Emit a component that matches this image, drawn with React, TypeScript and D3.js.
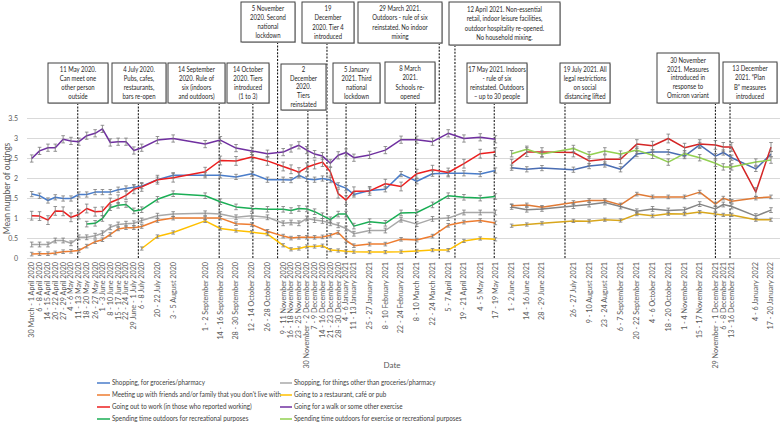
import React from "react";
import * as d3 from "d3";

// ---------- DATA ----------
const wave1Labels = [
  "30 March - 1 April 2020", "6 - 8 April 2020", "14 - 15 April 2020", "20 - 22 April 2020",
  "27 - 29 April 2020", "4 - 6 May 2020", "11 - 13 May 2020", "18 - 20 May 2020",
  "26 - 27 May 2020", "1 - 3 June 2020", "8 - 10 June 2020", "15 - 17 June 2020",
  "22 - 24 June 2020", "29 June - 1 July 2020", "6 - 8 July 2020", "20 - 22 July 2020",
  "3 - 5 August 2020", "1 - 2 September 2020", "14 - 16 September 2020", "28 - 30 September 2020",
  "12 - 14 October 2020", "26 - 28 October 2020", "9 - 11 November 2020", "16 - 18 November 2020",
  "23 - 25 November 2020", "30 November - 2 December 2020", "7 - 9 December 2020", "14 - 16 December 2020",
  "21 - 23 December 2020", "28 - 30 December 2020", "4 - 6 January 2021", "11 - 13 January 2021",
  "25 - 27 January 2021", "8 - 10 February 2021", "22 - 24 February 2021", "8 - 10 March 2021",
  "22 - 24 March 2021", "5 - 7 April 2021", "19 - 21 April 2021", "4 - 5 May 2021", "17 - 19 May 2021",
];
const wave1Dates = [
  "2020-03-31T00:00", "2020-04-07T00:00", "2020-04-14T12:00", "2020-04-21T00:00", "2020-04-28T00:00",
  "2020-05-05T00:00", "2020-05-12T00:00", "2020-05-19T00:00", "2020-05-26T12:00", "2020-06-02T00:00",
  "2020-06-09T00:00", "2020-06-16T00:00", "2020-06-23T00:00", "2020-06-30T00:00", "2020-07-07T00:00",
  "2020-07-21T00:00", "2020-08-04T00:00", "2020-09-01T12:00", "2020-09-15T00:00", "2020-09-29T00:00",
  "2020-10-13T00:00", "2020-10-27T00:00", "2020-11-10T00:00", "2020-11-17T00:00", "2020-11-24T00:00",
  "2020-12-01T00:00", "2020-12-08T00:00", "2020-12-15T00:00", "2020-12-22T00:00", "2020-12-29T00:00",
  "2021-01-05T00:00", "2021-01-12T00:00", "2021-01-26T00:00", "2021-02-09T00:00", "2021-02-23T00:00",
  "2021-03-09T00:00", "2021-03-23T00:00", "2021-04-06T00:00", "2021-04-20T00:00", "2021-05-04T12:00",
  "2021-05-18T00:00",
];
const wave2Labels = [
  "1 - 2 June 2021", "14 - 16 June 2021", "28 - 29 June 2021", "26 - 27 July 2021",
  "9 - 10 August 2021", "23 - 24 August 2021", "6 - 7 September 2021", "20 - 22 September 2021",
  "4 - 6 October 2021", "18 - 20 October 2021", "1 - 4 November 2021", "15 - 17 November 2021",
  "29 November - 1 December 2021", "6 - 8 December 2021", "13 - 16 December 2021",
  "4 - 6 January 2022", "17 - 20 January 2022",
];
const wave2Dates = [
  "2021-06-01T12:00", "2021-06-15T00:00", "2021-06-28T12:00", "2021-07-26T12:00", "2021-08-09T12:00",
  "2021-08-23T12:00", "2021-09-06T12:00", "2021-09-21T00:00", "2021-10-05T00:00", "2021-10-19T00:00",
  "2021-11-02T12:00", "2021-11-16T00:00", "2021-11-30T00:00", "2021-12-07T00:00", "2021-12-14T12:00",
  "2022-01-05T00:00", "2022-01-18T12:00",
];

const yTicks = [0, 0.5, 1, 1.5, 2, 2.5, 3, 3.5];

// Wave 1 series (41 survey waves)
const groceries1 = [1.61, 1.57, 1.45, 1.53, 1.50, 1.50, 1.60, 1.60, 1.66, 1.66, 1.66, 1.72, 1.75, 1.78, 1.81, 1.97, 2.08, 2.08, 2.08, 2.04, 2.12, 1.97, 1.97, 1.96, 2.08, 1.99, 1.97, 2.0, 1.96, 1.83, 1.76, 1.60, 1.70, 1.73, 2.11, 1.93, 2.12, 2.13, 2.13, 2.11, 2.2];
const otherShop1 = [0.35, 0.35, 0.35, 0.45, 0.45, 0.38, 0.53, 0.53, 0.57, 0.63, 0.78, 0.85, 0.87, 0.88, 0.95, 1.07, 1.11, 1.13, 1.11, 1.03, 1.07, 1.03, 0.88, 0.90, 0.88, 1.0, 0.96, 0.94, 0.88, 0.83, 0.75, 0.62, 0.70, 0.70, 0.97, 0.86, 0.99, 1.01, 1.15, 1.15, 1.15];
const meeting1 = [0.11, 0.12, 0.12, 0.14, 0.17, 0.18, 0.20, 0.31, 0.42, 0.47, 0.60, 0.74, 0.77, 0.77, 0.80, 0.95, 1.01, 1.01, 1.01, 0.87, 0.85, 0.68, 0.56, 0.51, 0.53, 0.53, 0.53, 0.54, 0.58, 0.65, 0.45, 0.32, 0.36, 0.36, 0.48, 0.46, 0.56, 0.83, 0.91, 0.95, 0.89];
const restaurant1 = [null, null, null, null, null, null, null, null, null, null, null, null, null, null, 0.25, 0.55, 0.65, 0.94, 0.75, 0.70, 0.66, 0.61, 0.33, 0.23, 0.25, 0.30, 0.30, 0.32, 0.21, 0.20, 0.18, 0.17, 0.16, 0.16, 0.17, 0.19, 0.21, 0.21, 0.44, 0.50, 0.48];
const work1 = [1.07, 1.06, 0.96, 1.19, 1.18, 1.03, 1.10, 1.25, 1.17, 1.18, 1.40, 1.48, 1.58, 1.73, 1.79, 1.97, 2.02, 2.17, 2.45, 2.44, 2.54, 2.44, 2.30, 2.23, 2.16, 2.28, 2.35, 2.41, 2.17, 1.62, 1.46, 1.68, 1.69, 1.87, 1.80, 2.12, 2.22, 2.15, 2.37, 2.62, 2.66];
const walk1 = [2.50, 2.69, 2.77, 2.77, 2.98, 2.94, 2.92, 3.07, 3.13, 3.24, 2.90, 2.92, 2.92, 2.70, 2.77, 2.96, 3.0, 2.86, 2.96, 2.76, 2.69, 2.62, 2.66, 2.75, 2.83, 2.71, 2.61, 2.56, 2.38, 2.58, 2.65, 2.52, 2.59, 2.71, 2.97, 2.97, 2.92, 3.13, 3.0, 3.03, 2.98];
const outdoorsRec1 = [null, null, null, null, null, null, null, 0.86, 0.88, 1.0, 1.27, 1.33, 1.35, 1.19, 1.22, 1.48, 1.62, 1.57, 1.42, 1.29, 1.25, 1.23, 1.23, 1.20, 1.25, 1.24, 1.17, 1.07, 0.97, 1.11, 1.11, 0.81, 0.92, 0.88, 1.14, 1.15, 1.34, 1.57, 1.53, 1.51, 1.55];

// Wave 2 series (17 survey waves)
const groceries2 = [2.27, 2.23, 2.26, 2.22, 2.31, 2.35, 2.23, 2.61, 2.66, 2.66, 2.56, 2.84, 2.56, 2.65, 2.52, 2.24, 2.61];
const otherShop2 = [1.29, 1.22, 1.24, 1.31, 1.35, 1.40, 1.30, 1.18, 1.24, 1.20, 1.22, 1.36, 1.24, 1.35, 1.30, 1.06, 1.21];
const meeting2 = [1.32, 1.34, 1.28, 1.40, 1.45, 1.45, 1.34, 1.61, 1.54, 1.54, 1.54, 1.66, 1.36, 1.51, 1.43, 1.51, 1.54];
const restaurant2 = [0.82, 0.85, 0.88, 0.94, 0.93, 0.97, 0.95, 1.11, 1.07, 1.12, 1.11, 1.16, 1.11, 1.09, 1.09, 0.97, 0.97];
const work2 = [2.37, 2.66, 2.66, 2.65, 2.44, 2.48, 2.48, 2.86, 2.82, 3.0, 2.77, 2.86, 2.84, 2.79, 2.79, 1.66, 2.79];
const outdoorsEx2 = [2.62, 2.73, 2.61, 2.75, 2.59, 2.69, 2.61, 2.71, 2.58, 2.41, 2.62, 2.52, 2.38, 2.29, 2.29, 2.41, 2.46];

// Approximate error-bar half widths (95% CI) per series
const ciGroceries = 0.065;
const ciOtherShop = 0.06;
const ciMeeting = 0.045;
const ciRestaurant = 0.04;
const ciWork = 0.11;
const ciWalk = 0.09;
const ciOutdoorsRec = 0.07;
const ciOutdoorsEx = 0.08;

const seriesNames = [
  "Shopping, for groceries/pharmacy",
  "Shopping, for things other than groceries/pharmacy",
  "Meeting up with friends and/or family that you don't live with",
  "Going to a restaurant, café or pub",
  "Going out to work (in those who reported working)",
  "Going for a walk or some other exercise",
  "Spending time outdoors for recreational purposes",
  "Spending time outdoors for exercise or recreational purposes",
];

// Policy events
const eventDates = [
  "2020-05-11T00:00", "2020-07-04T00:00", "2020-09-14T00:00", "2020-10-14T00:00", "2020-11-05T00:00",
  "2020-12-02T00:00", "2020-12-19T00:00", "2021-01-05T00:00", "2021-03-29T00:00", "2021-03-08T00:00",
  "2021-04-12T00:00", "2021-05-17T00:00", "2021-07-19T00:00", "2021-11-30T00:00", "2021-12-13T00:00",
];
const eventTexts = [
  ["11 May 2020.", "Can meet one", "other person", "outside"],
  ["4 July 2020.", "Pubs, cafes,", "restaurants,", "bars re-open"],
  ["14 September", "2020. Rule of", "six (indoors", "and outdoors)"],
  ["14 October", "2020. Tiers", "introduced", "(1 to 3)"],
  ["5 November", "2020. Second", "national", "lockdown"],
  ["2", "December", "2020.", "Tiers", "reinstated"],
  ["19", "December", "2020. Tier 4", "introduced"],
  ["5 January", "2021. Third", "national", "lockdown"],
  ["29 March 2021.", "Outdoors - rule of six", "reinstated. No indoor", "mixing"],
  ["8 March", "2021.", "Schools re-", "opened"],
  ["12 April 2021. Non-essential", "retail, indoor leisure facilities,", "outdoor hospitality re-opened.", "No household mixing."],
  ["17 May 2021. Indoors", "- rule of six", "reinstated. Outdoors", "\u2013 up to 30 people"],
  ["19 July 2021. All", "legal restrictions", "on social", "distancing lifted"],
  ["30 November", "2021. Measures", "introduced in", "response to", "Omicron variant"],
  ["13 December", "2021. \u201cPlan", "B\u201d measures", "introduced"],
];

// ---------- LAYOUT (annotation boxes: left, top, right, bottom) ----------
const boxLayout = [
  [48, 63, 108, 103], [112, 63, 166, 103], [168, 63, 225, 103], [227, 63, 269, 103],
  [241, 2, 295, 42], [281, 64, 326, 110], [302, 2, 354, 43], [333, 63, 380, 103],
  [358, 2, 442, 43], [385, 62, 435, 103], [449, 2, 560, 45], [467, 63, 527, 103],
  [560, 63, 610, 103], [657, 53, 719, 103], [723, 62, 777, 103],
];

const COLORS = {
  groceries: ["#4a7dca", "#4a6db3"],
  otherShop: ["#a8a8a8", "#858585"],
  meeting: ["#ee7d31", "#e07a35"],
  restaurant: ["#ffc000", "#d8a61c"],
  work: ["#ec1f1f", "#d42626"],
  walk: ["#7030a0", "#7030a0"],
  outdoorsRec: ["#1aae55", "#1aae55"],
  outdoorsEx: ["#92d050", "#92d050"],
};

const FONT = "Lato, 'Open Sans', sans-serif";

export default function App() {
  const parse = (s: string) => new Date(s);
  const x = d3
    .scaleTime()
    .domain([parse("2020-03-31T00:00"), parse("2022-01-18T12:00")])
    .range([31.7, 771]);
  const y = d3.scaleLinear().domain([0, 3.5]).range([258.5, 118.5]);

  const d1 = wave1Dates.map(parse);
  const d2 = wave2Dates.map(parse);

  type S = { key: keyof typeof COLORS; name: string; w1: (number | null)[] | null; w2: (number | null)[] | null; ci: number };
  const series: S[] = [
    { key: "otherShop", name: seriesNames[1], w1: otherShop1, w2: otherShop2, ci: ciOtherShop },
    { key: "meeting", name: seriesNames[2], w1: meeting1, w2: meeting2, ci: ciMeeting },
    { key: "restaurant", name: seriesNames[3], w1: restaurant1, w2: restaurant2, ci: ciRestaurant },
    { key: "outdoorsRec", name: seriesNames[6], w1: outdoorsRec1, w2: null, ci: ciOutdoorsRec },
    { key: "groceries", name: seriesNames[0], w1: groceries1, w2: groceries2, ci: ciGroceries },
    { key: "work", name: seriesNames[4], w1: work1, w2: work2, ci: ciWork },
    { key: "walk", name: seriesNames[5], w1: walk1, w2: null, ci: ciWalk },
    { key: "outdoorsEx", name: seriesNames[7], w1: null, w2: outdoorsEx2, ci: ciOutdoorsEx },
  ];

  const line = d3
    .line<[Date, number | null]>()
    .defined((d) => d[1] != null)
    .x((d) => x(d[0]))
    .y((d) => y(d[1] as number));

  const renderWave = (vals: (number | null)[] | null, dates: Date[], color: string, ci: number, k: string) => {
    if (!vals) return null;
    const pts: [Date, number | null][] = dates.map((d, i) => [d, vals[i]]);
    return (
      <g key={k}>
        <path d={line(pts) || ""} fill="none" stroke={color} strokeWidth={1.5} strokeLinejoin="round" />
        {pts.map((p, i) =>
          p[1] == null ? null : (
            <g key={i} stroke="#7a7a7a" strokeWidth={0.8}>
              <line x1={x(p[0])} x2={x(p[0])} y1={y(p[1] - ci)} y2={y(p[1] + ci)} />
              <line x1={x(p[0]) - 1.8} x2={x(p[0]) + 1.8} y1={y(p[1] - ci)} y2={y(p[1] - ci)} />
              <line x1={x(p[0]) - 1.8} x2={x(p[0]) + 1.8} y1={y(p[1] + ci)} y2={y(p[1] + ci)} />
            </g>
          )
        )}
      </g>
    );
  };

  const allLabels = [...wave1Labels, ...wave2Labels];
  const allDates = [...d1, ...d2];

  const legendLeft = ["groceries", "meeting", "work", "outdoorsRec"] as const;
  const legendLeftNames = [seriesNames[0], seriesNames[2], seriesNames[4], seriesNames[6]];
  const legendRight = ["otherShop", "restaurant", "walk", "outdoorsEx"] as const;
  const legendRightNames = [seriesNames[1], seriesNames[3], seriesNames[5], seriesNames[7]];
  const legendY = [383, 395, 407, 419];

  return (
    <svg
      width={780}
      height={430}
      style={{ position: "absolute", left: 0, top: 0, background: "#fff" }}
      fontFamily={FONT}
    >
      {/* gridlines */}
      {yTicks.map((t) => (
        <line key={t} x1={27} x2={780} y1={y(t)} y2={y(t)} stroke="#d9d9d9" strokeWidth={1} />
      ))}
      {yTicks.map((t) => (
        <text key={"yt" + t} x={18} y={y(t)} dy="0.33em" textAnchor="end" fontSize={7} fill="#595959">
          {t}
        </text>
      ))}
      <text
        transform={`translate(10,${y(1.75)}) rotate(-90)`}
        textAnchor="middle"
        fontSize={8.5}
        fill="#595959"
      >
        Mean number of outings
      </text>

      {/* event dashed lines */}
      {eventDates.map((ed, i) => (
        <line
          key={"ev" + i}
          x1={x(parse(ed))}
          x2={x(parse(ed))}
          y1={boxLayout[i][3]}
          y2={258.5}
          stroke="#1a1a1a"
          strokeWidth={1.1}
          strokeDasharray="2,1.4"
        />
      ))}

      {/* series */}
      {series.map((s) => (
        <g key={s.key}>
          {renderWave(s.w1, d1, COLORS[s.key][0], s.ci, "a")}
          {renderWave(s.w2, d2, COLORS[s.key][1], s.ci, "b")}
        </g>
      ))}

      {/* annotation boxes */}
      {eventTexts.map((lines, i) => {
        const [l, t, r, b] = boxLayout[i];
        const cx = (l + r) / 2;
        const lh = lines.length > 4 ? 8.8 : 9.2;
        const startY = (t + b) / 2 - ((lines.length - 1) * lh) / 2;
        return (
          <g key={"box" + i}>
            <rect x={l + 1} y={t + 1} width={r - l} height={b - t} fill="#c8c8c8" />
            <rect x={l} y={t} width={r - l} height={b - t} fill="#fff" stroke="#404040" strokeWidth={1} />
            {lines.map((ln, j) => (
              <text
                key={j}
                transform={`translate(${cx},${startY + j * lh}) scale(0.85,1)`}
                dy="0.35em"
                textAnchor="middle"
                fontSize={7}
                fill="#262626"
              >
                {ln}
              </text>
            ))}
          </g>
        );
      })}

      {/* x tick labels */}
      {allLabels.map((lab, i) => (
        <text
          key={"xl" + i}
          transform={`translate(${x(allDates[i])},262) rotate(-90)`}
          textAnchor="end"
          dy="0.33em"
          fontSize={7.2}
          fill="#595959"
        >
          {lab}
        </text>
      ))}
      <text x={392} y={368} textAnchor="middle" fontSize={8} fill="#595959">
        Date
      </text>

      {/* legend */}
      {legendLeft.map((k, i) => (
        <g key={"ll" + k}>
          <line x1={97} x2={110} y1={legendY[i]} y2={legendY[i]} stroke={COLORS[k][0]} strokeWidth={1.5} />
          <text transform={`translate(112,${legendY[i]}) scale(0.9,1)`} dy="0.33em" fontSize={7} fill="#404040">
            {legendLeftNames[i]}
          </text>
        </g>
      ))}
      {legendRight.map((k, i) => (
        <g key={"lr" + k}>
          <line x1={280} x2={292} y1={legendY[i]} y2={legendY[i]} stroke={COLORS[k][0]} strokeWidth={1.5} />
          <text transform={`translate(294,${legendY[i]}) scale(0.9,1)`} dy="0.33em" fontSize={7} fill="#404040">
            {legendRightNames[i]}
          </text>
        </g>
      ))}
    </svg>
  );
}
